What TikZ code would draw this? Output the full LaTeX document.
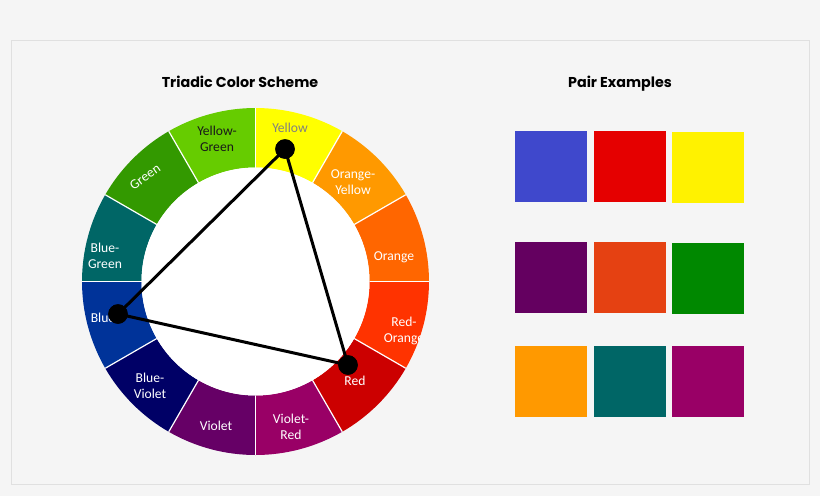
\documentclass[tikz,border=0pt]{standalone}
\usepackage{fontspec}
\setmainfont{Carlito}
\newfontfamily\headfont{Poppins}
\usepackage{tikz}
\usetikzlibrary{positioning}
\definecolor{pagebg}{HTML}{F5F5F5}
\definecolor{framegray}{HTML}{E0E0E0}
\definecolor{wYellow}{HTML}{FFFF00}
\definecolor{wOrangeYellow}{HTML}{FF9900}
\definecolor{wOrange}{HTML}{FF6600}
\definecolor{wRedOrange}{HTML}{FF3300}
\definecolor{wRed}{HTML}{CC0000}
\definecolor{wVioletRed}{HTML}{990066}
\definecolor{wViolet}{HTML}{660066}
\definecolor{wBlueViolet}{HTML}{000066}
\definecolor{wBlue}{HTML}{003399}
\definecolor{wBlueGreen}{HTML}{006666}
\definecolor{wGreen}{HTML}{339900}
\definecolor{wYellowGreen}{HTML}{66CC00}
\tikzset{%
	segtext/.style = {text=white, font=\fontsize{13.6}{16}\selectfont, align=center, inner sep=0pt},
	heading/.style = {font=\headfont\bfseries\fontsize{14.3}{16}\selectfont, inner sep=0pt},
	swatch/.style  = {minimum width=72pt, minimum height=71pt, inner sep=0pt},
	vertex/.style  = {circle, fill=black, minimum size=19.5pt, inner sep=0pt},
	leg/.style     = {line width=3pt, black},
}

\begin{document}
\begin{tikzpicture}[x=1pt,y=-1pt]
	\fill[pagebg] (0,0) rectangle (820,496);
	\useasboundingbox (0,0) rectangle (820,496);
	\draw[framegray, line width=1pt] (11,40.5) rectangle (809,484.5);

	\node[heading] (wheeltitle) at (240,82) {Triadic Color Scheme};
	\node[heading] (pairtitle) at (620,84) {Pair Examples};

	% colour wheel
	\begin{scope}[shift={(255.5,281.5)},y=1pt]
		\foreach \a/\c in {60/wYellow,30/wOrangeYellow,0/wOrange,-30/wRedOrange,-60/wRed,-90/wVioletRed,-120/wViolet,-150/wBlueViolet,-180/wBlue,150/wBlueGreen,120/wGreen,90/wYellowGreen}
			\fill[\c] (\a:114) arc[start angle=\a, end angle=\a+30, radius=114] -- ({\a+30}:173.5) arc[start angle=\a+30, end angle=\a, radius=173.5] -- cycle;
		\foreach \a in {0,30,...,330}
			\draw[white, line width=1.2pt] (\a:114) -- (\a:173.5);
		\fill[white] (0,0) circle[radius=114];
	\end{scope}

	\begin{scope}
		\clip (255.5,281.5) circle[radius=173.5];
		\node[segtext, text=black!50] (lblYellow) at (290,128) {Yellow};
		\node[segtext, text=black!90] (lblYellowGreen) at (217,139) {Yellow-\\Green};
		\node[segtext, rotate=35] (lblGreen) at (145,177) {Green};
		\node[segtext] (lblBlueGreen) at (105,256) {Blue-\\Green};
		\node[segtext] (lblBlue) at (103,318) {Blue};
		\node[segtext] (lblBlueViolet) at (150,386) {Blue-\\Violet};
		\node[segtext] (lblViolet) at (216,426) {Violet};
		\node[segtext] (lblVioletRed) at (291,427) {Violet-\\Red};
		\node[segtext] (lblRed) at (355,381) {Red};
		\node[segtext] (lblRedOrange) at (404,331) {Red-\\Orange};
		\node[segtext] (lblOrange) at (394,257) {Orange};
		\node[segtext] (lblOrangeYellow) at (353,182) {Orange-\\Yellow};
	\end{scope}

	% triad
	\node[vertex] (ydot) at (285,149) {};
	\node[vertex] (bdot) at (118,314) {};
	\node[vertex] (rdot) at (348,365) {};
	\draw[leg, line join=round] (ydot.center) -- (bdot.center) -- (rdot.center) -- cycle;
	\node[vertex] at (ydot) {};
	\node[vertex] at (bdot) {};
	\node[vertex] at (rdot) {};

	% pair swatches
	\node[swatch, anchor=north west, fill={rgb,255:red,63;green,72;blue,204}] (pairA1) at (515,131) {};
	\node[swatch, right=6pt of pairA1, fill={rgb,255:red,229;green,0;blue,0}] (pairA2) {};
	\node[swatch, right=6pt of pairA2, yshift=-1pt, fill={rgb,255:red,255;green,242;blue,0}] (pairA3) {};
	\node[swatch, anchor=north west, fill={rgb,255:red,100;green,0;blue,96}] (pairB1) at (515,242) {};
	\node[swatch, right=6pt of pairB1, fill={rgb,255:red,229;green,65;blue,18}] (pairB2) {};
	\node[swatch, right=6pt of pairB2, yshift=-1pt, fill={rgb,255:red,0;green,136;blue,0}] (pairB3) {};
	\node[swatch, anchor=north west, fill={rgb,255:red,255;green,153;blue,0}] (pairC1) at (515,346) {};
	\node[swatch, right=6pt of pairC1, fill={rgb,255:red,0;green,102;blue,102}] (pairC2) {};
	\node[swatch, right=6pt of pairC2, fill={rgb,255:red,153;green,0;blue,102}] (pairC3) {};
\end{tikzpicture}
\end{document}
